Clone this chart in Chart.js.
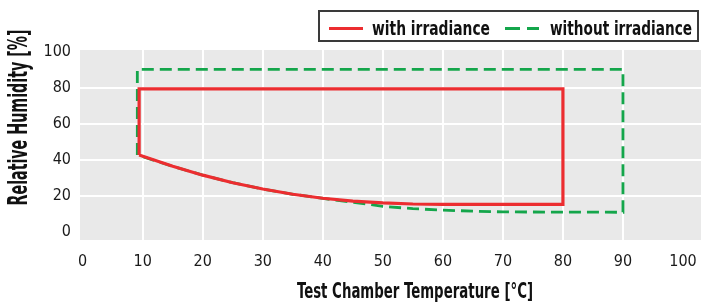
<!DOCTYPE html>
<html>
<head>
<meta charset="utf-8">
<script src="https://cdn.jsdelivr.net/npm/chart.js@4.4.1/dist/chart.umd.min.js"></script>
<style>
  html, body { margin: 0; padding: 0; background: #fff; }
  #wrap { width: 701px; height: 306px; }
</style>
</head>
<body>
<div id="wrap"><canvas id="climateChart" width="701" height="306"></canvas></div>
<script>
// tick labels
const xTicks = [0, 10, 20, 30, 40, 50, 60, 70, 80, 90, 100];
const yTicks = [0, 20, 40, 60, 80, 100];

// operating range with irradiance (closed outline)
const withTemp = [9.4, 9.4, 80, 80, 60, 55, 50, 45, 40, 35, 30, 25, 20, 15, 9.4];
const withRH   = [42.8, 79.5, 79.5, 15.4, 15.4, 15.6, 16.2, 17.2, 18.8, 21.0, 23.9, 27.4, 31.6, 36.5, 42.8];

// operating range without irradiance (closed outline)
const withoutTemp = [9.1, 9.1, 90, 90, 70, 65, 60, 55, 50, 45, 40, 35, 30, 25, 20, 15, 9.1];
const withoutRH   = [42.8, 90.3, 90.3, 11.0, 11.2, 11.6, 12.2, 13.0, 14.3, 16.6, 18.7, 21.0, 23.9, 27.4, 31.6, 36.5, 42.8];

const labels = ['with irradiance', 'without irradiance'];
const colors = ['#ec2d30', '#14a64b'];

const FONT = "'Liberation Sans Narrow', 'DejaVu Sans Condensed', 'Arial Narrow', 'Liberation Sans', sans-serif";

function toPoints(xs, ys) {
    return xs.map((x, i) => ({ x: x, y: ys[i] }));
}

// draw text squeezed/stretched to a given width (the original uses a condensed face)
function fitText(ctx, text, x, y, width, font, align) {
    ctx.font = font;
    const w = ctx.measureText(text).width;
    ctx.save();
    ctx.translate(x, y);
    ctx.scale(width / w, 1);
    ctx.textAlign = align || 'left';
    ctx.fillText(text, 0, 0);
    ctx.restore();
}

const decorPlugin = {
    id: 'decor',
    beforeDraw(chart) {
        const { ctx, chartArea } = chart;
        ctx.save();
        ctx.fillStyle = '#e9e9e9';
        ctx.fillRect(chartArea.left, chartArea.top, chartArea.right - chartArea.left, chartArea.bottom - chartArea.top);
        ctx.restore();
    },
    afterDraw(chart) {
        const ctx = chart.ctx;
        ctx.save();
        ctx.fillStyle = '#111';
        ctx.textBaseline = 'alphabetic';

        // axis titles
        fitText(ctx, 'Test Chamber Temperature [°C]', 297, 298, 236, 'bold 21px ' + FONT);
        ctx.save();
        ctx.translate(27, 117.5);
        ctx.rotate(-Math.PI / 2);
        fitText(ctx, 'Relative Humidity [%]', 0, 0, 176, 'bold 26px ' + FONT, 'center');
        ctx.restore();

        // legend box
        ctx.strokeStyle = '#3a3a3a';
        ctx.lineWidth = 2;
        ctx.strokeRect(319, 11, 379, 30);

        ctx.lineWidth = 3;
        ctx.strokeStyle = colors[0];
        ctx.beginPath();
        ctx.moveTo(329, 28.5);
        ctx.lineTo(363, 28.5);
        ctx.stroke();
        fitText(ctx, labels[0], 372, 35, 118, 'bold 20px ' + FONT);

        ctx.strokeStyle = colors[1];
        ctx.setLineDash([15, 7]);
        ctx.beginPath();
        ctx.moveTo(505, 28.5);
        ctx.lineTo(539, 28.5);
        ctx.stroke();
        ctx.setLineDash([]);
        fitText(ctx, labels[1], 550, 35, 142, 'bold 20px ' + FONT);
        ctx.restore();
    }
};

const gridColor = c => (c.tick && (c.tick.value === 0 || c.tick.value === 100)) ? 'rgba(0,0,0,0)' : '#ffffff';

const ctx = document.getElementById('climateChart').getContext('2d');
const climateChart = new Chart(ctx, {
    type: 'scatter',
    data: {
        datasets: [
            {
                label: labels[0],
                data: toPoints(withTemp, withRH),
                showLine: true,
                borderColor: colors[0],
                borderWidth: 3.2,
                pointRadius: 0,
                fill: false,
                borderJoinStyle: 'miter',
                order: 0
            },
            {
                label: labels[1],
                data: toPoints(withoutTemp, withoutRH),
                showLine: true,
                borderColor: colors[1],
                borderWidth: 2.8,
                borderDash: [12, 6],
                pointRadius: 0,
                fill: false,
                borderJoinStyle: 'miter',
                order: 1
            }
        ]
    },
    options: {
        responsive: false,
        animation: false,
        layout: { padding: { top: 50, left: 0, right: 0, bottom: 0 } },
        plugins: {
            legend: { display: false },
            tooltip: { enabled: false }
        },
        scales: {
            x: {
                type: 'linear',
                min: -0.45,
                max: 103,
                afterBuildTicks: scale => { scale.ticks = xTicks.map(v => ({ value: v })); },
                afterFit: scale => {
                    scale.height = 66;
                    scale.paddingLeft = 0;
                    scale.paddingRight = 0;
                },
                border: { display: false },
                grid: { drawTicks: false, lineWidth: 2, color: gridColor },
                ticks: {
                    padding: 12,
                    maxRotation: 0,
                    color: '#1a1a1a',
                    font: { family: FONT, size: 16 }
                }
            },
            y: {
                type: 'linear',
                min: -4.4,
                max: 101.1,
                afterBuildTicks: scale => { scale.ticks = yTicks.map(v => ({ value: v })); },
                afterFit: scale => {
                    scale.width = 80;
                    scale.paddingTop = 0;
                    scale.paddingBottom = 0;
                },
                border: { display: false },
                grid: { drawTicks: false, lineWidth: 2, color: gridColor },
                ticks: {
                    padding: 9,
                    color: '#1a1a1a',
                    font: { family: FONT, size: 16 }
                }
            }
        }
    },
    plugins: [decorPlugin]
});
</script>
</body>
</html>
